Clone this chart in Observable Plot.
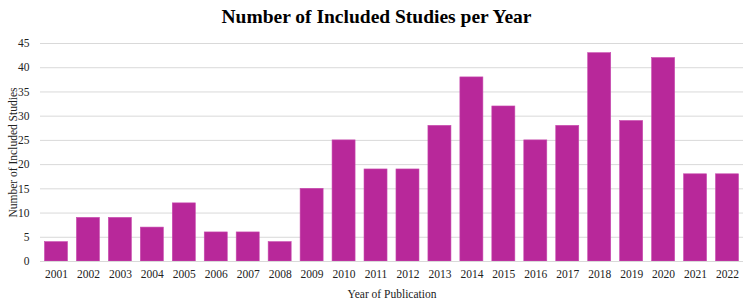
<!DOCTYPE html>
<html><head><meta charset="utf-8">
<script src="https://cdn.jsdelivr.net/npm/d3@7"></script>
<script src="https://cdn.jsdelivr.net/npm/@observablehq/plot@0.6"></script>
<style>
body{margin:0;background:#fff;}
#title{font-family:"Liberation Serif",serif;font-weight:bold;font-size:19.5px;text-align:center;height:30px;line-height:34px;width:753px;color:#000;}
#chart svg, #chart svg text{font-family:"Liberation Serif",serif !important;}
</style>
</head><body>
<div id="title">Number of Included Studies per Year</div>
<div id="chart"></div>
<script>
const years = ["2001","2002","2003","2004","2005","2006","2007","2008","2009","2010","2011","2012","2013","2014","2015","2016","2017","2018","2019","2020","2021","2022"];
const counts = [4,9,9,7,12,6,6,4,15,25,19,19,28,38,32,25,28,43,29,42,18,18];
const yTicks = [0,5,10,15,20,25,30,35,40,45];
const data = years.map((y,i)=>({year:y,count:counts[i]}));
const chart = Plot.plot({
  width:753, height:274,
  marginTop:13, marginBottom:43, marginLeft:40, marginRight:10,
  style:{fontFamily:"Liberation Serif, serif", fontSize:"11.5px", color:"#222"},
  x:{domain:years, range:[40,743], round:false, paddingInner:0.28, paddingOuter:0.14, label:"Year of Publication", labelAnchor:"center", labelOffset:36, tickSize:0, tickPadding:8, labelArrow:"none"},
  y:{domain:[0,45], ticks:yTicks, label:"Number of Included Studies", labelAnchor:"center", labelOffset:32, tickSize:0, tickPadding:11, labelArrow:"none"},
  marks:[
    Plot.gridY(yTicks,{stroke:"#d9d9d9", strokeOpacity:1}),
    Plot.barY(data,{x:"year", y:"count", fill:"#b8289a", stroke:"#c84aae", strokeWidth:0.6}),
    Plot.ruleY([0],{stroke:"#d9d9d9"})
  ]
});
document.getElementById("chart").appendChild(chart);
</script>
</body></html>
